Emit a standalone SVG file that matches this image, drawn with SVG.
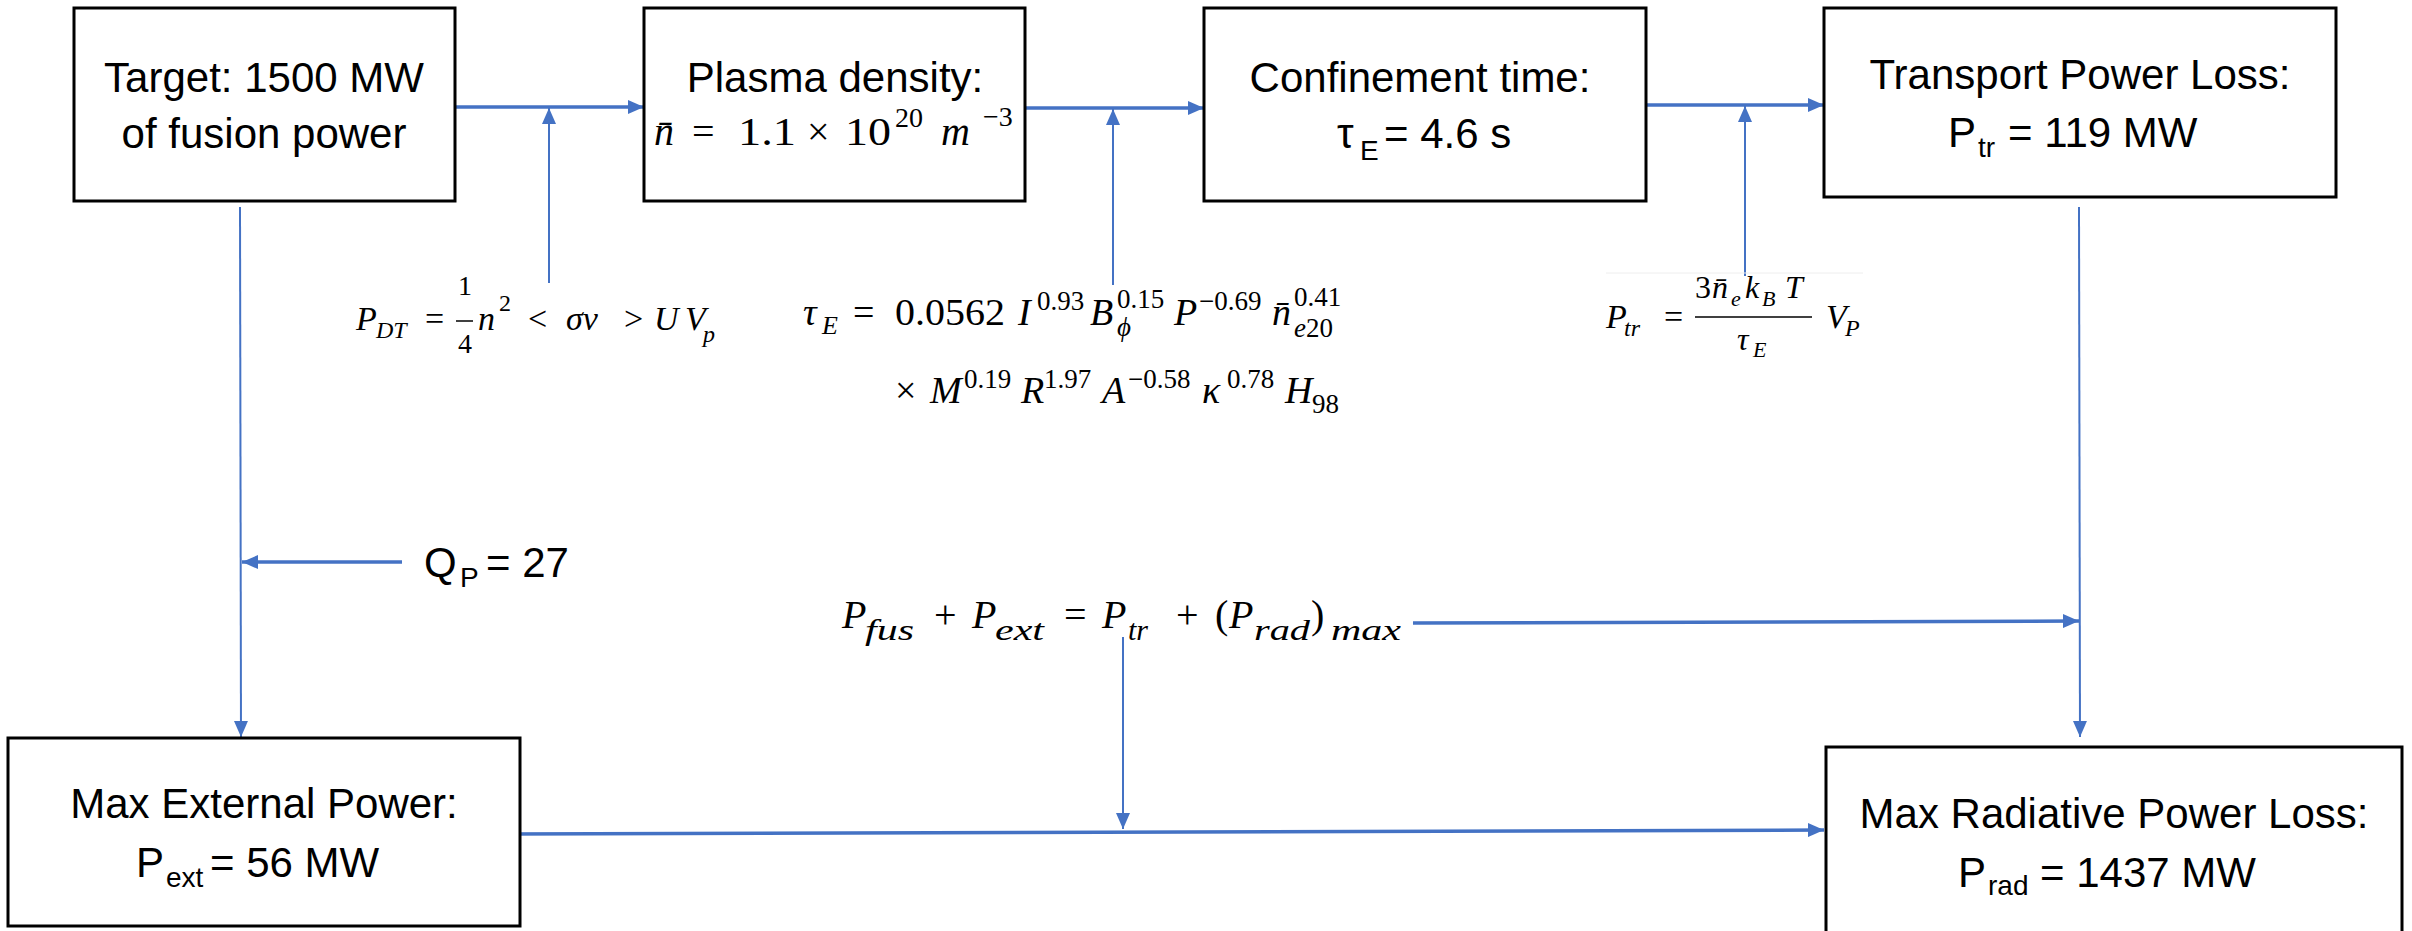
<svg xmlns="http://www.w3.org/2000/svg" width="2412" height="931" viewBox="0 0 2412 931">
<style>
.box{fill:#fff;stroke:#000;stroke-width:3}
.t{font-family:"Liberation Sans",Arial,sans-serif;font-size:42px;fill:#000}
.ts{font-family:"Liberation Sans",Arial,sans-serif;font-size:28px;fill:#000}
.mi{font-family:"Liberation Serif","Times New Roman",serif;font-style:italic;fill:#000}
.mu{font-family:"Liberation Serif","Times New Roman",serif;fill:#000}
.c{fill:none;stroke:#4472C4}
.thick{stroke-width:3.5}
.thin{stroke-width:2}
</style>
<defs>
<marker id="ah" markerUnits="userSpaceOnUse" markerWidth="16" markerHeight="14" refX="16" refY="7" orient="auto">
<path d="M0,0 L16,7 L0,14 z" fill="#4472C4"/>
</marker>
</defs>
<rect width="2412" height="931" fill="#fff"/>

<g id="connectors">
<line class="c thick" x1="455" y1="107" x2="644" y2="107" marker-end="url(#ah)"/>
<line class="c thin" x1="549" y1="283" x2="549" y2="108" marker-end="url(#ah)"/>
<line class="c thick" x1="1025" y1="108" x2="1204" y2="108" marker-end="url(#ah)"/>
<line class="c thin" x1="1113" y1="285" x2="1113" y2="109" marker-end="url(#ah)"/>
<line class="c thick" x1="1646" y1="105" x2="1824" y2="105" marker-end="url(#ah)"/>
<line class="c thin" x1="1745" y1="276" x2="1745" y2="106" marker-end="url(#ah)"/>
<line class="c thin" x1="240" y1="207" x2="241" y2="737" marker-end="url(#ah)"/>
<line class="c thick" x1="402" y1="562" x2="242" y2="562" marker-end="url(#ah)"/>
<line class="c thin" x1="2079" y1="207" x2="2080" y2="737" marker-end="url(#ah)"/>
<line class="c thick" x1="1413" y1="623" x2="2079" y2="621" marker-end="url(#ah)"/>
<line class="c thin" x1="1123" y1="637" x2="1123" y2="829" marker-end="url(#ah)"/>
<line class="c thick" x1="509" y1="834" x2="1824" y2="830" marker-end="url(#ah)"/>
</g>

<g id="target">
<rect class="box" x="74" y="8" width="381" height="193"/>
<text class="t" x="264" y="92" text-anchor="middle">Target: 1500 MW</text>
<text class="t" x="264" y="148" text-anchor="middle">of fusion power</text>
</g>

<g id="plasma">
<rect class="box" x="644" y="8" width="381" height="193"/>
<text class="t" x="835" y="92" text-anchor="middle">Plasma density:</text>
<text class="mi" x="654" y="145" font-size="40">n̄</text>
<text class="mu" x="692" y="145" font-size="40">=</text>
<text class="mu" x="738" y="145" font-size="40" textLength="58" lengthAdjust="spacingAndGlyphs">1.1</text>
<text class="mu" x="807" y="145" font-size="40">×</text>
<text class="mu" x="845" y="145" font-size="40" textLength="46" lengthAdjust="spacingAndGlyphs">10</text>
<text class="mu" x="895" y="127" font-size="28">20</text>
<text class="mi" x="941" y="145" font-size="40">m</text>
<text class="mu" x="983" y="126" font-size="28">−3</text>
</g>

<g id="confinement">
<rect class="box" x="1204" y="8" width="442" height="193"/>
<text class="t" x="1420" y="92" text-anchor="middle">Confinement time:</text>
<text class="t" x="1337" y="148">τ</text>
<text class="ts" x="1360" y="160">E</text>
<text class="t" x="1384" y="148">= 4.6 s</text>
</g>

<g id="transport">
<rect class="box" x="1824" y="8" width="512" height="189"/>
<text class="t" x="2080" y="89" text-anchor="middle">Transport Power Loss:</text>
<text class="t" x="1948" y="147">P</text>
<text class="ts" x="1978" y="157">tr</text>
<text class="t" x="2008" y="147">= 119 MW</text>
</g>

<g id="maxext">
<rect class="box" x="8" y="738" width="512" height="188"/>
<text class="t" x="264" y="818" text-anchor="middle">Max External Power:</text>
<text class="t" x="136" y="877">P</text>
<text class="ts" x="166" y="887">ext</text>
<text class="t" x="210" y="877">= 56 MW</text>
</g>

<g id="maxrad">
<rect class="box" x="1826" y="747" width="576" height="200"/>
<text class="t" x="2114" y="828" text-anchor="middle">Max Radiative Power Loss:</text>
<text class="t" x="1958" y="887">P</text>
<text class="ts" x="1988" y="895">rad</text>
<text class="t" x="2040" y="887">= 1437 MW</text>
</g>

<g id="label-qp">
<text class="t" x="424" y="577">Q</text>
<text class="ts" x="460" y="587">P</text>
<text class="t" x="486" y="577">= 27</text>
</g>

<g id="formula-pdt">
<text class="mi" x="356" y="330" font-size="34">P</text>
<text class="mi" x="376" y="338" font-size="24">DT</text>
<text class="mu" x="425" y="330" font-size="34">=</text>
<text class="mu" x="458" y="295" font-size="28">1</text>
<line x1="456" y1="321" x2="473" y2="321" stroke="#000" stroke-width="1.5"/>
<text class="mu" x="458" y="353" font-size="28">4</text>
<text class="mi" x="478" y="330" font-size="34">n</text>
<text class="mu" x="499" y="311" font-size="24">2</text>
<text class="mu" x="528" y="330" font-size="34">&lt;</text>
<text class="mi" x="566" y="330" font-size="34">σv</text>
<text class="mu" x="624" y="330" font-size="34">&gt;</text>
<text class="mi" x="654" y="330" font-size="34">U</text>
<text class="mi" x="685" y="330" font-size="34">V</text>
<text class="mi" x="703" y="342" font-size="24">p</text>
</g>

<g id="formula-tau">
<text class="mi" x="803" y="325" font-size="38">τ</text>
<text class="mi" x="822" y="334" font-size="26">E</text>
<text class="mu" x="853" y="325" font-size="38">=</text>
<text class="mu" x="895" y="325" font-size="38" textLength="110" lengthAdjust="spacingAndGlyphs">0.0562</text>
<text class="mi" x="1018" y="325" font-size="38">I</text>
<text class="mu" x="1037" y="310" font-size="27">0.93</text>
<text class="mi" x="1090" y="325" font-size="38">B</text>
<text class="mu" x="1117" y="308" font-size="27">0.15</text>
<text class="mi" x="1117" y="336" font-size="27">ϕ</text>
<text class="mi" x="1174" y="325" font-size="38">P</text>
<text class="mu" x="1199" y="310" font-size="27">−0.69</text>
<text class="mi" x="1272" y="325" font-size="38">n̄</text>
<text class="mu" x="1294" y="306" font-size="27">0.41</text>
<text class="mi" x="1294" y="337" font-size="27">e<tspan font-style="normal">20</tspan></text>
<text class="mu" x="895" y="403" font-size="38">×</text>
<text class="mi" x="930" y="403" font-size="38">M</text>
<text class="mu" x="964" y="388" font-size="27">0.19</text>
<text class="mi" x="1021" y="403" font-size="38">R</text>
<text class="mu" x="1044" y="388" font-size="27">1.97</text>
<text class="mi" x="1102" y="403" font-size="38">A</text>
<text class="mu" x="1128" y="388" font-size="27">−0.58</text>
<text class="mi" x="1202" y="403" font-size="38">κ</text>
<text class="mu" x="1227" y="388" font-size="27">0.78</text>
<text class="mi" x="1285" y="403" font-size="38">H</text>
<text class="mu" x="1312" y="413" font-size="27">98</text>
</g>

<g id="formula-ptr">
<line x1="1606" y1="273" x2="1863" y2="273" stroke="#eeeeee" stroke-width="1"/>
<text class="mi" x="1606" y="328" font-size="34">P</text>
<text class="mi" x="1624" y="336" font-size="24">tr</text>
<text class="mu" x="1664" y="328" font-size="34">=</text>
<text class="mu" x="1695" y="298" font-size="32">3</text>
<text class="mi" x="1712" y="298" font-size="32">n̄</text>
<text class="mi" x="1731" y="306" font-size="22">e</text>
<text class="mi" x="1745" y="298" font-size="32">k</text>
<text class="mi" x="1762" y="306" font-size="22">B</text>
<text class="mi" x="1785" y="298" font-size="32">T</text>
<line x1="1695" y1="317" x2="1812" y2="317" stroke="#000" stroke-width="1.5"/>
<text class="mi" x="1737" y="350" font-size="32">τ</text>
<text class="mi" x="1753" y="357" font-size="22">E</text>
<text class="mi" x="1826" y="328" font-size="34">V</text>
<text class="mi" x="1845" y="336" font-size="24">P</text>
</g>

<g id="formula-balance">
<text class="mi" x="842" y="628" font-size="40">P</text>
<text class="mi" x="865" y="640" font-size="30" textLength="49" lengthAdjust="spacingAndGlyphs">fus</text>
<text class="mu" x="934" y="628" font-size="40">+</text>
<text class="mi" x="972" y="628" font-size="40">P</text>
<text class="mi" x="995" y="640" font-size="30" textLength="49" lengthAdjust="spacingAndGlyphs">ext</text>
<text class="mu" x="1064" y="628" font-size="40">=</text>
<text class="mi" x="1102" y="628" font-size="40">P</text>
<text class="mi" x="1128" y="640" font-size="30">tr</text>
<text class="mu" x="1176" y="628" font-size="40">+</text>
<text class="mu" x="1215" y="628" font-size="40">(</text>
<text class="mi" x="1229" y="628" font-size="40">P</text>
<text class="mi" x="1254" y="640" font-size="30" textLength="56" lengthAdjust="spacingAndGlyphs">rad</text>
<text class="mu" x="1311" y="628" font-size="40">)</text>
<text class="mi" x="1331" y="640" font-size="30" textLength="70" lengthAdjust="spacingAndGlyphs">max</text>
</g>
</svg>
